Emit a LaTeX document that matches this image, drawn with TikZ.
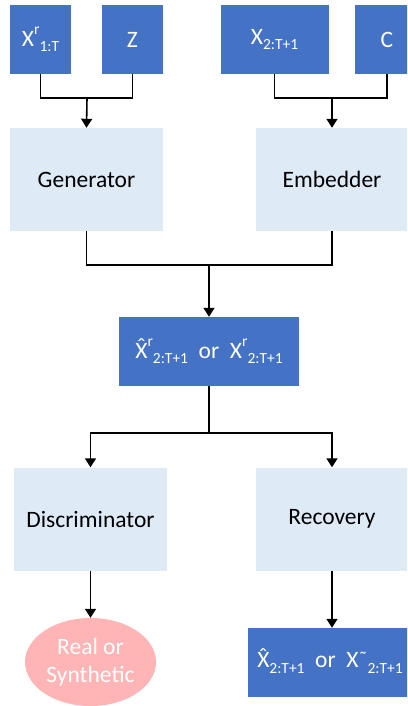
\documentclass[tikz,border=0pt]{standalone}
\usepackage{fontspec}
\setmainfont{Carlito}
\usetikzlibrary{arrows.meta,shapes.geometric}
\definecolor{darkblue}{HTML}{4472C4}
\definecolor{lightblue}{HTML}{DEEBF7}
\definecolor{pinkred}{HTML}{FFB5B5}
\newcommand{\hatX}{\ooalign{X\cr\hidewidth\raisebox{0.16em}{\char"02C6}\hidewidth\cr}}
\newcommand{\lowtxt}[1]{\raisebox{-0.22em}{\fontsize{15.5}{16}\selectfont #1}}
\newcommand{\hightxt}[1]{\raisebox{0.48em}{\fontsize{15.5}{16}\selectfont #1}}
\newcommand{\tildemark}{\raisebox{0.12em}{\fontsize{20}{20}\selectfont\char"02DC}}
\begin{document}
\begin{tikzpicture}[x=1pt,y=-1pt,
    font=\fontsize{23.5}{28}\selectfont,
    dark/.style={rectangle, fill=darkblue, text=white, minimum height=69pt, inner sep=0pt},
    light/.style={rectangle, fill=lightblue, text=black, minimum width=153pt, minimum height=103pt, inner sep=0pt},
    link/.style={black, line width=1.6pt},
    arr/.style={link, -{Triangle[width=11pt,length=9pt]}}]
    \useasboundingbox (0,0) rectangle (407,706);
    \clip (0,0) rectangle (407,706);
    % inputs
    \node[dark, minimum width=61pt] (xr) at (40.5,39.5) {X\hightxt{r}\lowtxt{1:T}};
    \node[dark, minimum width=61pt] (z) at (132.5,39.5) {Z};
    \node[dark, minimum width=108pt] (x2) at (274.5,39.5) {X\lowtxt{2:T+1}};
    \node[dark, minimum width=64pt] (c) at (387,39.5) {C};
    % networks
    \node[light] (gen) at (86.5,179.5) {Generator};
    \node[light] (emb) at (332,179.5) {Embedder};
    \node[dark, minimum width=180pt] (mid) at (209,351.5) {\hatX\hightxt{r}\lowtxt{2:T+1} \ or \ X\hightxt{r}\lowtxt{2:T+1}};
    \node[light] (disc) at (90.5,519) {Discriminator};
    \node[light] (rec) at (332,519) {Recovery};
    \node[ellipse, fill=pinkred, text=white, minimum width=131pt, minimum height=88pt, inner sep=0pt, align=center] (rs) at (90.5,662) {Real or\\Synthetic};
    \node[dark, minimum width=168pt] (out) at (332,662.5) {\hatX\lowtxt{2:T+1} \ or \ X\tildemark\lowtxt{2:T+1}\kern4pt};
    % joins
    \coordinate (j1) at (87,98);
    \coordinate (j2) at (332,98);
    \coordinate (j3) at (209,265);
    \coordinate (j4) at (209,433);
    \draw[link] (xr.south) |- (j1) -| (z.south);
    \draw[link] (x2.south) |- (j2) -| (c.south);
    \draw[arr] (j1) -- (gen.north);
    \draw[arr] (j2) -- (emb.north);
    \draw[link] (gen.south) |- (j3) -| (emb.south);
    \draw[arr] (j3) -- (mid.north);
    \draw[link] (mid.south) -- (j4);
    \draw[arr] (j4) -| (disc.north);
    \draw[arr] (j4) -| (rec.north);
    \draw[arr] (disc.south) -- (rs.north);
    \draw[arr] (rec.south) -- (out.north);
\end{tikzpicture}
\end{document}
